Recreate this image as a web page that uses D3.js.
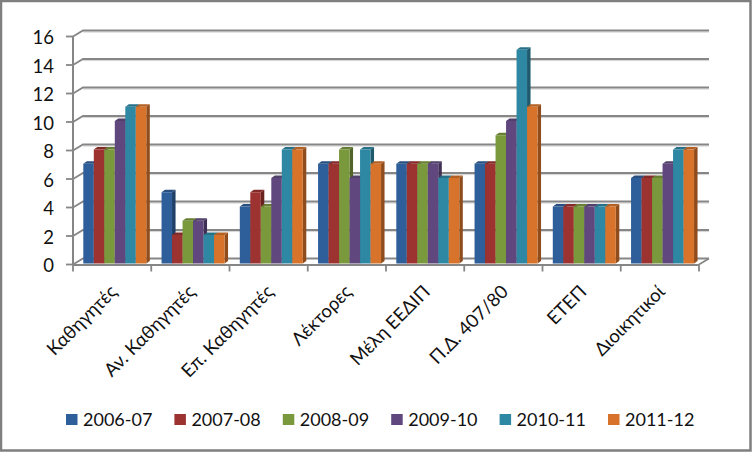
<!DOCTYPE html>
<html><head><meta charset="utf-8">
<script src="https://cdn.jsdelivr.net/npm/d3@7"></script>
<style>html,body{margin:0;padding:0;background:#fff}svg{display:block}text{font-family:Lato,"Open Sans",sans-serif;fill:#111}</style>
</head><body><script>
const categories=["Καθηγητές","Αν. Καθηγητές","Επ. Καθηγητές","Λέκτορες","Μέλη ΕΕΔΙΠ","Π.Δ. 407/80","ΕΤΕΠ","Διοικητικοί"];
const seriesNames=["2006-07","2007-08","2008-09","2009-10","2010-11","2011-12"];
const s0607=[7,5,4,7,7,7,4,6];
const s0708=[8,2,5,7,7,7,4,6];
const s0809=[8,3,4,8,7,9,4,6];
const s0910=[10,3,6,6,7,10,4,7];
const s1011=[11,2,8,8,6,15,4,8];
const s1112=[11,2,8,7,6,11,4,8];
const seriesValues=[s0607,s0708,s0809,s0910,s1011,s1112];
const colors=["#2f5f9a","#9c3330","#7a983c","#60487f","#2e87a3","#d7732a"];
const sideColors=["#1f3f66","#682220","#516528","#403055","#1f5a6d","#8f4c1c"];
const topColors=["#294f80","#832b28","#667f32","#50406a","#267188","#b36024"];
const yTicks=[0,2,4,6,8,10,12,14,16];

const W=752,H=452;
const svg=d3.select("body").append("svg").attr("width",W).attr("height",H);
svg.append("rect").attr("x",1).attr("y",1).attr("width",W-2.5).attr("height",H-2.5)
  .attr("fill","#fff").attr("stroke","#7f7f7f").attr("stroke-width",2.5);

const x=d3.scaleBand().domain(categories).range([73,699]);
const y=d3.scaleLinear().domain([0,16]).range([264.5,36.5]);
const inner=d3.scaleBand().domain(d3.range(6)).range([10.3,73.3]);
const wallDx=10,wallDy=-6,dx=3.5,dy=-2.5,baseLift=-1;
const grid="#868686";

const g=svg.append("g");
yTicks.forEach(t=>{
  const yy=y(t);
  if(t>0){
    g.append("path").attr("d",`M${73+wallDx},${yy+wallDy+1.6}H709`).attr("stroke","#d4d4d4").attr("stroke-width",1).attr("fill","none");
  }
  g.append("path").attr("d",`M73,${yy}L${73+wallDx},${yy+wallDy}H709`).attr("stroke",grid).attr("stroke-width",1.8).attr("fill","none");
  g.append("path").attr("d",`M66,${yy}H73`).attr("stroke",grid).attr("stroke-width",1.8);
  g.append("text").attr("x",54).attr("y",yy+7.5).attr("text-anchor","end").attr("font-size",18.5).text(t);
});
g.append("path").attr("d",`M73,${y(16)}V${y(0)}`).attr("stroke",grid).attr("stroke-width",2);
g.append("path").attr("d",`M699,${y(0)}L709,${y(0)+wallDy}`).attr("stroke",grid).attr("stroke-width",1.8);

categories.forEach((c,ci)=>{
  seriesValues.forEach((vals,si)=>{
    const bx=x(c)+inner(si),w=inner.bandwidth(),top=y(vals[ci])+baseLift,bot=y(0)+baseLift;
    const b=g.append("g");
    b.append("path").attr("d",`M${bx+w},${top}l${dx},${dy}V${bot+dy}l${-dx},${-dy}Z`).attr("fill",sideColors[si]);
    b.append("path").attr("d",`M${bx},${top}l${dx},${dy}h${w}l${-dx},${-dy}Z`).attr("fill",topColors[si]);
    b.append("rect").attr("x",bx).attr("y",top).attr("width",w).attr("height",bot-top).attr("fill",colors[si]);
  });
});

g.append("path").attr("d",`M73,${y(0)+0.5}H699`).attr("stroke",grid).attr("stroke-width",2);
[...categories.map(c=>x(c)),699].forEach(p=>{
  g.append("path").attr("d",`M${p},${y(0)}v7`).attr("stroke",grid).attr("stroke-width",1.8);
});

categories.forEach(c=>{
  const cx=x(c)+x.bandwidth()/2+6, cy=293;
  g.append("text").attr("transform",`translate(${cx},${cy}) rotate(-45)`)
    .attr("text-anchor","end").attr("font-size",18.5).text(c);
});

const legendX=d3.scalePoint().domain(seriesNames).range([66,608]);
seriesNames.forEach((n,i)=>{
  const lx=legendX(n);
  svg.append("rect").attr("x",lx).attr("y",414).attr("width",11.5).attr("height",11).attr("fill",colors[i]);
  svg.append("text").attr("x",lx+17).attr("y",426).attr("font-size",18).text(n);
});
</script></body></html>
